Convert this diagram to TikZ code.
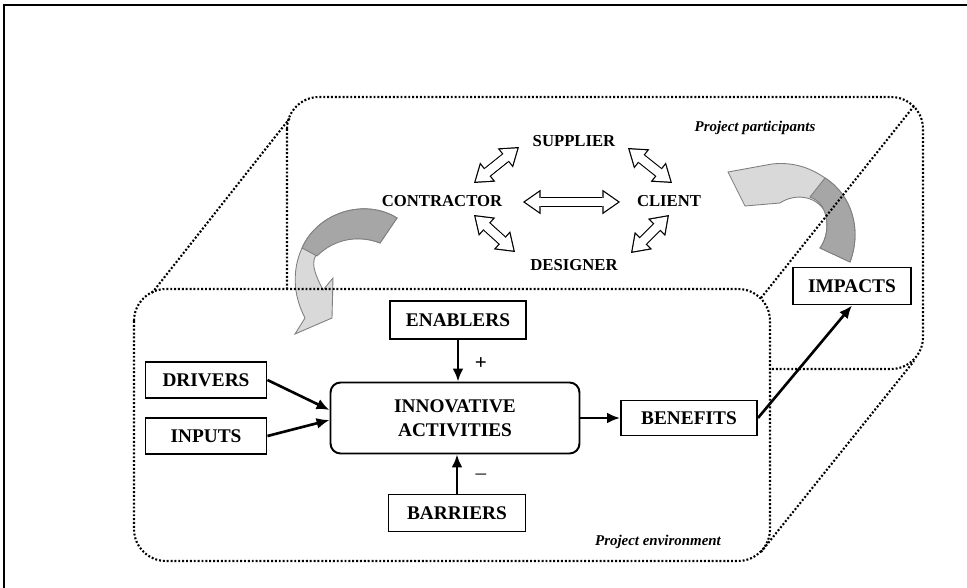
\documentclass[tikz,border=0pt]{standalone}
\usepackage{fontspec}
\setmainfont{Liberation Serif}
\usetikzlibrary{arrows.meta,positioning,calc}
\definecolor{ArrDark}{HTML}{A6A6A6}
\definecolor{ArrLight}{HTML}{D9D9D9}
\definecolor{ArrEdge}{HTML}{7F7F7F}

\begin{document}
\begin{tikzpicture}[
    x=0.02cm, y=-0.02cm,
    frame/.style={draw=black, line width=0.8pt},
    dots/.style={draw=black, line width=1.2pt, dash pattern=on 1.1pt off 1.1pt},
    box/.style={draw, line width=1.1pt, inner sep=0pt, align=center,
      font=\fontsize{11}{13.6}\selectfont\bfseries},
    actor/.style={inner sep=0pt, font=\fontsize{9.5}{11}\selectfont\bfseries},
    tag/.style={inner sep=0pt, font=\fontsize{8.5}{10}\selectfont\bfseries\itshape},
    sign/.style={inner sep=0pt, font=\fontsize{12}{14}\selectfont},
    arrow/.style={-{Latex[length=2.6mm,width=2.2mm]}, line width=1.5pt},
    dbl/.style={line width=6pt,
      {Triangle[length=10pt,width=14pt,line width=0pt]}-{Triangle[length=10pt,width=14pt,line width=0pt]},
      postaction={draw=white, line width=4.6pt, shorten <=1.22pt, shorten >=1.22pt,
        {Triangle[length=8.08pt,width=11.3pt,line width=0pt]}-{Triangle[length=8.08pt,width=11.3pt,line width=0pt]}},
      postaction={draw=white, line width=4.6pt, shorten <=6pt, shorten >=6pt, -}},
    twist/.style={draw=ArrEdge, line width=0.5pt}
  ]
    \useasboundingbox (0,0) rectangle (967,588);
    \draw[frame] (967,5) -- (4,5) -- (4,588);

    \draw[dots, rounded corners=0.64cm] (287,97) rectangle (923,369);
    \fill[white, rounded corners=0.64cm] (134,289) rectangle (770,561);

    \filldraw[twist, fill=ArrLight] (397,218) .. controls (365,198) and (318,212) .. (302,248)
      .. controls (292,270) and (293,295) .. (305,318) -- (295,334) -- (332,318) -- (333,278)
      -- (323,290) .. controls (314,272) and (310,262) .. (318,252)
      .. controls (335,238) and (360,235) .. (380,243) -- cycle;
    \filldraw[twist, fill=ArrDark] (397,218) .. controls (365,198) and (318,212) .. (302,248)
      -- (317,256) .. controls (335,238) and (360,235) .. (380,243) -- cycle;
    \filldraw[twist, fill=ArrLight] (850,262) .. controls (862,230) and (852,195) .. (825,178)
      .. controls (808,166) and (790,162) .. (772,164) -- (728,172) -- (745,206) -- (780,203)
      .. controls (795,193) and (815,196) .. (824,210)
      .. controls (830,225) and (826,240) .. (820,248) -- cycle;
    \filldraw[twist, fill=ArrDark] (850,262) .. controls (862,230) and (852,195) .. (825,178)
      -- (810,197) .. controls (818,200) and (822,205) .. (824,210)
      .. controls (830,225) and (826,240) .. (820,248) -- cycle;

    \draw[dots, rounded corners=0.64cm] (134,289) rectangle (770,561);
    \draw[dots] (152,293) -- (290,118);
    \draw[dots] (761,298) -- (914,106);
    \draw[dots] (761,552) -- (914,361);

    \node[actor] (supplier) at (574,141) {SUPPLIER};
    \node[actor] (contractor) at (442,201) {CONTRACTOR};
    \node[actor] (client) at (669,201) {CLIENT};
    \node[actor] (designer) at (574,265) {DESIGNER};
    \node[tag] (participants) at (755,128) {Project participants};
    \node[tag] (environment) at (658,542) {Project environment};

    \draw[dbl] ([shift={(32,-18)}]contractor.center) -- ([shift={(-55,6)}]supplier.center);
    \draw[dbl] ([shift={(54,7)}]supplier.center) -- ([shift={(3,-18)}]client.center);
    \draw[dbl] ([shift={(81,1)}]contractor.center) -- ([shift={(-49,1)}]client.center);
    \draw[dbl] ([shift={(32,14)}]contractor.center) -- ([shift={(-59,-13)}]designer.center);
    \draw[dbl] ([shift={(57,-12)}]designer.center) -- ([shift={(0,14)}]client.center);

    \node[box, rounded corners=0.2cm, minimum width=4.98cm, minimum height=1.42cm] (ia) at (455,418) {INNOVATIVE\\ACTIVITIES};
    \node[box, minimum width=2.72cm, minimum height=0.76cm] (enablers) at (458,320) {ENABLERS};
    \node[box, minimum width=2.74cm, minimum height=0.74cm] (barriers) at (457,513) {BARRIERS};
    \node[box, minimum width=2.42cm, minimum height=0.72cm] (drivers) at (206,380) {DRIVERS};
    \node[box, minimum width=2.42cm, minimum height=0.72cm] (inputs) at (206,436) {INPUTS};
    \node[box, minimum width=2.72cm, minimum height=0.70cm] (benefits) at (689,418) {BENEFITS};
    \node[box, minimum width=2.36cm, minimum height=0.74cm] (impacts) at (852,286) {IMPACTS};
    \node[sign] (plus) at (481,364) {\bfseries +};
    \node[sign] (minus) at (481,477) {–};

    \draw[arrow] (drivers.east) -- ([shift={(0,-8)}]ia.west);
    \draw[arrow] (inputs.east) -- ([shift={(0,2)}]ia.west);
    \draw[arrow] (enablers) -- (enablers |- ia.north);
    \draw[arrow] (barriers) -- (barriers |- ia.south);
    \draw[arrow] (ia) -- (benefits);
    \draw[arrow] (benefits.east) -- (impacts.south);
  \end{tikzpicture}
\end{document}
